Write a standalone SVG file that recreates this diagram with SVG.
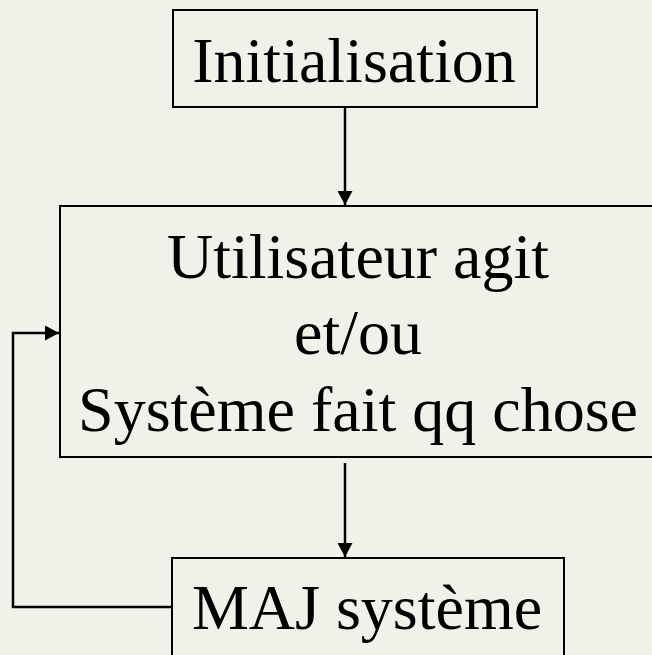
<svg xmlns="http://www.w3.org/2000/svg" width="652" height="655" viewBox="0 0 652 655">
<defs>
<style>
.box{fill:none;stroke:#000;stroke-width:2}
.t{font-family:"Liberation Serif","Times New Roman",serif;font-size:64px;fill:#000;text-anchor:middle}
.c{fill:none;stroke:#000;stroke-width:2.5}
</style>
<marker id="ah" markerWidth="15" markerHeight="15" viewBox="0 0 14 15" refX="14" refY="7.5" orient="auto" markerUnits="userSpaceOnUse">
<path d="M0,0 L14,7.5 L0,15 Z" fill="#000"/>
</marker>
</defs>
<rect width="652" height="655" fill="#f2f1e9"/>
<g id="init">
<rect class="box" x="173" y="10" width="364" height="97"/>
<text class="t" x="354" y="82">Initialisation</text>
</g>
<g id="action">
<rect class="box" x="60" y="206" width="600" height="251"/>
<text class="t" x="358" y="278">Utilisateur agit</text>
<text class="t" x="358" y="354">et/ou</text>
<text class="t" x="358" y="431">Système fait qq chose</text>
</g>
<g id="maj">
<rect class="box" x="172" y="558" width="392" height="110"/>
<text class="t" x="367" y="629">MAJ système</text>
</g>
<g id="connectors">
<path class="c" d="M345,107 V205" marker-end="url(#ah)"/>
<path class="c" d="M345,463 V557" marker-end="url(#ah)"/>
<path class="c" d="M172,607 H13 V333 H59" marker-end="url(#ah)"/>
</g>
</svg>
